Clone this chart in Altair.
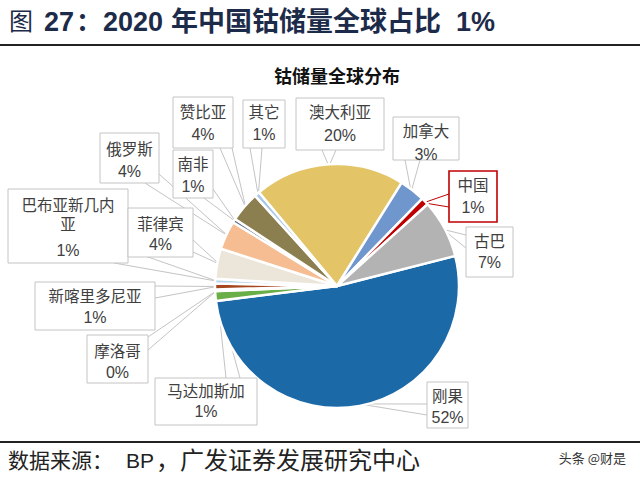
import math
import pandas as pd
import altair as alt

# ---- data ----
names = ["刚果", "马达加斯加", "摩洛哥", "新喀里多尼亚", "巴布亚新几内亚", "菲律宾", "俄罗斯",
         "南非", "赞比亚", "其它", "澳大利亚", "加拿大", "中国", "古巴"]
values = [51.9, 1.3, 0.2, 0.8, 0.6, 4.0, 3.8, 0.5, 4.0, 0.7, 19.9, 3.4, 1.0, 7.7]
pct_labels = ["52%", "1%", "0%", "1%", "1%", "4%", "4%", "1%", "4%", "1%", "20%", "3%", "1%", "7%"]
display_names = ["刚果", "马达加斯加", "摩洛哥", "新喀里多尼亚", "巴布亚新几内\n亚", "菲律宾", "俄罗斯",
                 "南非", "赞比亚", "其它", "澳大利亚", "加拿大", "中国", "古巴"]

# ---- styles / layout ----
colors = ["#1c69a7", "#6aae48", "#8c8c8c", "#a5461e", "#b7d5ec", "#ece6da", "#f7bd92",
          "#5e6e84", "#8b7f4f", "#a8c6e6", "#e3c467", "#6f96cd", "#c00000", "#b3b3b3"]
cx, cy, R = 337, 286, 122
start = math.radians(75.7)

box_x0 = [427, 155, 87, 35, 8, 128, 100, 173, 173, 243, 296, 393, 449, 466]
box_y0 = [382, 378, 335, 282, 189, 208, 133, 150, 97, 100, 98, 117, 171, 227]
box_x1 = [468, 257, 148, 155, 128, 193, 159, 213, 233, 285, 384, 459, 497, 513]
box_y1 = [428, 425, 383, 330, 263, 257, 183, 198, 148, 148, 150, 160, 222, 277]
name_y = [397, 392, 352, 297, 206, 225, 150, 165, 113, 113, 113, 132, 186, 242]
pct_y = [418, 412, 373, 318, 251, 245, 172, 187, 135, 135, 136, 155, 208, 263]
a1 = [(427, 404), (226, 378), (148, 337), (155, 286), (128, 250), (193, 240), (145, 183),
      (204, 198), (220, 148), (250, 148), (322, 150), (405, 160), (449, 194), (466, 235)]
a2 = [(427, 415), (240, 378), (148, 350), (155, 298), (114, 263), (193, 252), (159, 174),
      (213, 189), (232, 148), (262, 148), (336, 150), (420, 160), (449, 207), (466, 248)]

total = sum(values)
tips = []
cum = 0.0
for v in values:
    a = start + 2 * math.pi * (cum + v / 2) / total
    tips.append((cx + (R - 2) * math.sin(a), cy - (R - 2) * math.cos(a)))
    cum += v

line_col = ["#c00000" if n == "中国" else "#c4c4c4" for n in names]

pie_df = pd.DataFrame({"name": names, "value": values, "idx": list(range(len(names)))})

lead_rows = []
for i in range(len(names)):
    for (ax, ay) in (a1[i], a2[i]):
        lead_rows.append({"x": ax, "y": ay, "x2": tips[i][0], "y2": tips[i][1], "c": line_col[i]})
lead_df = pd.DataFrame(lead_rows)

box_df = pd.DataFrame({
    "x": box_x0, "x2": box_x1, "y": box_y0, "y2": box_y1, "c": line_col,
    "w": [1.6 if n == "中国" else 1.0 for n in names],
    "cxx": [(a + b) / 2 for a, b in zip(box_x0, box_x1)],
    "ny": name_y, "py": pct_y, "nm": display_names, "pc": pct_labels,
})

pie = alt.Chart(pie_df).mark_arc(outerRadius=R, stroke="white", strokeWidth=2.5).encode(
    theta=alt.Theta("value:Q", stack=True, scale=alt.Scale(range=[start, start + 2 * math.pi])),
    color=alt.Color("name:N", scale=alt.Scale(domain=names, range=colors), legend=None),
    order=alt.Order("idx:Q"),
    x=alt.value(cx), y=alt.value(cy),
)

leads = alt.Chart(lead_df).mark_rule(strokeWidth=1).encode(
    x=alt.X("x:Q", scale=None), y=alt.Y("y:Q", scale=None),
    x2="x2:Q", y2="y2:Q",
    color=alt.Color("c:N", scale=None),
)

boxes = alt.Chart(box_df).mark_rect(fill="white").encode(
    x=alt.X("x:Q", scale=None), y=alt.Y("y:Q", scale=None),
    x2="x2:Q", y2="y2:Q",
    stroke=alt.Stroke("c:N", scale=None),
    strokeWidth=alt.StrokeWidth("w:Q", scale=None),
)

name_txt = alt.Chart(box_df).mark_text(
    font="Noto Sans CJK SC", fontSize=15.5, color="#404040", baseline="middle",
    lineBreak="\n", lineHeight=19,
).encode(x=alt.X("cxx:Q", scale=None), y=alt.Y("ny:Q", scale=None), text="nm:N")

pct_txt = alt.Chart(box_df).mark_text(
    font="Liberation Sans", fontSize=16, color="#404040", baseline="middle",
).encode(x=alt.X("cxx:Q", scale=None), y=alt.Y("py:Q", scale=None), text="pc:N")


def seg(text, x, y, font, size, weight="normal", color="#1d2b4a"):
    return alt.Chart(pd.DataFrame({"t": [text]})).mark_text(
        font=font, fontSize=size, fontWeight=weight, color=color, align="left", baseline="middle",
    ).encode(x=alt.value(x), y=alt.value(y), text="t:N")


CJK = "Noto Sans CJK SC"
LAT = "Liberation Sans"
title_layers = [
    seg("图", 9, 23, CJK, 24),
    seg("27", 44, 23, LAT, 27, "bold"),
    seg("：", 76, 23, CJK, 26, "bold"),
    seg("2020", 103, 23, LAT, 27, "bold"),
    seg("年中国钴储量全球占比", 171, 23, CJK, 27, "bold"),
    seg("1%", 456, 23, LAT, 27, "bold"),
]
foot_layers = [
    seg("数据来源：", 8, 462, CJK, 21, color="#222222"),
    seg("BP", 126, 462, LAT, 21, color="#222222"),
    seg("，广发证券发展研究中心", 156, 462, CJK, 24, color="#222222"),
]

sub = alt.Chart(pd.DataFrame({"t": ["钴储量全球分布"]})).mark_text(
    font=CJK, fontSize=18, fontWeight="bold", color="#111111", baseline="middle",
).encode(x=alt.value(337), y=alt.value(78), text="t:N")

wm = alt.Chart(pd.DataFrame({"t": ["头条 @财是"]})).mark_text(
    font=CJK, fontSize=13, color="#333333", align="right", baseline="middle",
).encode(x=alt.value(626), y=alt.value(459), text="t:N")

top_rule = alt.Chart(pd.DataFrame({"a": [0]})).mark_rule(color="#222222", strokeWidth=2).encode(
    x=alt.value(0), x2=alt.value(640), y=alt.value(45))
bot_rule = alt.Chart(pd.DataFrame({"a": [0]})).mark_rule(color="#222222", strokeWidth=2).encode(
    x=alt.value(0), x2=alt.value(640), y=alt.value(442))

chart = alt.layer(
    leads, pie, boxes, name_txt, pct_txt, *title_layers, sub, *foot_layers, wm, top_rule, bot_rule
).properties(width=640, height=480, autosize="none", padding=0, background="white"
).configure_view(stroke=None)

chart.save("out.html", embed_options={"renderer": "svg", "actions": False})
